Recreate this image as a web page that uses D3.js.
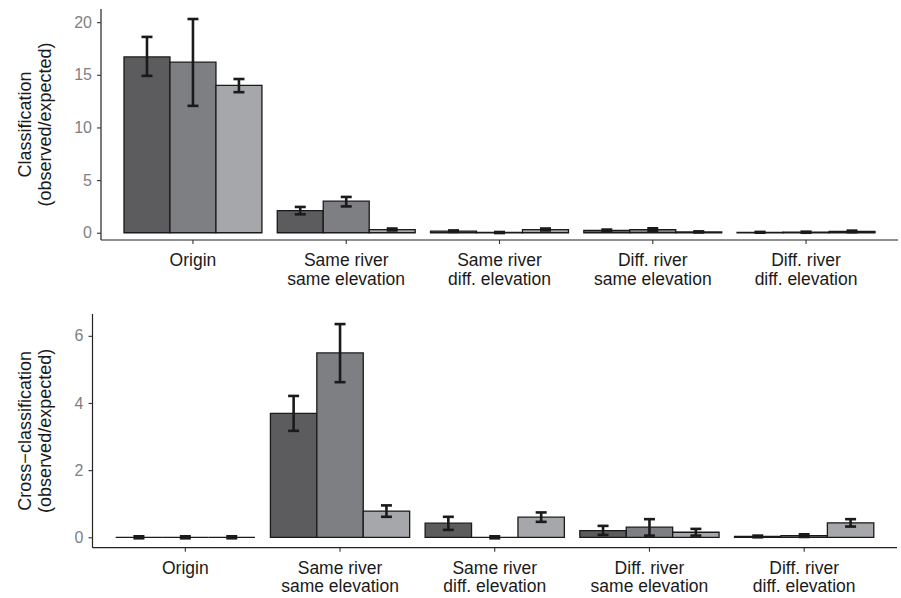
<!DOCTYPE html>
<html>
<head>
<meta charset="utf-8">
<script src="https://cdn.jsdelivr.net/npm/d3@7"></script>
<style>
  body { margin: 0; background: #fff; }
  text { font-family: "Liberation Sans", Arial, sans-serif; }
</style>
</head>
<body>
<script>
//categories along the x axis (two lines each)
var categories = ["Origin", "Same river same elevation", "Same river diff. elevation",
                  "Diff. river same elevation", "Diff. river diff. elevation"];
var categoryLines = [["Origin"], ["Same river", "same elevation"], ["Same river", "diff. elevation"],
                     ["Diff. river", "same elevation"], ["Diff. river", "diff. elevation"]];
var series = ["s1", "s2", "s3"];
var seriesColors = ["#5c5c5e", "#7e7f83", "#a6a7ab"];

//top panel: classification (observed/expected), one row per category
var classMean = [[16.7, 16.2, 14.0], [2.1, 3.0, 0.3], [0.15, 0.02, 0.3], [0.22, 0.3, 0.08], [0.04, 0.05, 0.12]];
var classLow  = [[14.9, 12.05, 13.35], [1.75, 2.5, 0.22], [0.08, -0.03, 0.22], [0.13, 0.18, 0.03], [0.0, 0.0, 0.05]];
var classHigh = [[18.6, 20.3, 14.6], [2.45, 3.4, 0.4], [0.22, 0.07, 0.4], [0.3, 0.42, 0.13], [0.08, 0.1, 0.2]];
var classTicks = [0, 5, 10, 15, 20];

//bottom panel: cross-classification (observed/expected)
var crossMean = [[0, 0, 0], [3.69, 5.49, 0.78], [0.42, 0, 0.6], [0.2, 0.3, 0.15], [0.03, 0.05, 0.43]];
var crossLow  = [[-0.03, -0.03, -0.03], [3.17, 4.62, 0.61], [0.22, -0.03, 0.46], [0.07, 0.05, 0.05], [0.0, 0.01, 0.32]];
var crossHigh = [[0.03, 0.03, 0.03], [4.21, 6.35, 0.95], [0.61, 0.03, 0.74], [0.34, 0.54, 0.25], [0.05, 0.09, 0.54]];
var crossTicks = [0, 2, 4, 6];

var width = 901, height = 598;

var svg = d3.select("body")
    .append("svg")
    .attr("width", width)
    .attr("height", height);

drawPanel({
    left: 101, right: 898, top: 9, bottom: 240,
    domain: [-0.69, 21.25], ticks: classTicks,
    mean: classMean, low: classLow, high: classHigh,
    title: ["Classification", "(observed/expected)"]
});

drawPanel({
    left: 92.5, right: 897, top: 314, bottom: 547.7,
    domain: [-0.31, 6.65], ticks: crossTicks,
    mean: crossMean, low: crossLow, high: crossHigh,
    title: ["Cross\u2212classification", "(observed/expected)"]
});

function drawPanel(p){
    var g = svg.append("g");

    //x: one band per category, bars dodged inside
    var x = d3.scaleBand()
        .domain(categories)
        .range([p.left, p.right])
        .paddingInner(0.1)
        .paddingOuter(0.15);
    var xs = d3.scaleBand()
        .domain(series)
        .range([0, x.bandwidth()]);
    var y = d3.scaleLinear()
        .domain(p.domain)
        .range([p.bottom, p.top]);

    //flatten to one record per bar
    var rows = [];
    categories.forEach(function(c, i){
        series.forEach(function(s, j){
            rows.push({cat: c, ser: s, j: j, mean: p.mean[i][j], low: p.low[i][j], high: p.high[i][j]});
        });
    });

    function bx(d){ return x(d.cat) + xs(d.ser); }
    function cx(d){ return bx(d) + xs.bandwidth() / 2; }

    //bars as paths so zero-height bars still show their outline
    g.selectAll(".bar")
        .data(rows)
        .enter()
        .append("path")
        .attr("class", "bar")
        .attr("d", function(d){
            var x0 = bx(d), x1 = x0 + xs.bandwidth(), y0 = y(0), y1 = y(d.mean);
            return "M" + x0 + "," + y0 + "H" + x1 + "V" + y1 + "H" + x0 + "Z";
        })
        .attr("fill", function(d){ return seriesColors[d.j]; })
        .attr("stroke", "#1a1a1a")
        .attr("stroke-width", 1.3);

    //error bars
    var capW = 11;
    var eb = g.selectAll(".err")
        .data(rows)
        .enter()
        .append("g")
        .attr("class", "err")
        .attr("stroke", "#1a1a1a")
        .attr("stroke-width", 2.6)
        .attr("fill", "none");
    eb.append("line")
        .attr("x1", cx)
        .attr("x2", cx)
        .attr("y1", function(d){ return y(d.low); })
        .attr("y2", function(d){ return y(d.high); });
    ["low", "high"].forEach(function(k){
        eb.append("line")
            .attr("x1", function(d){ return cx(d) - capW / 2; })
            .attr("x2", function(d){ return cx(d) + capW / 2; })
            .attr("y1", function(d){ return y(d[k]); })
            .attr("y2", function(d){ return y(d[k]); });
    });

    //y axis
    var yAxis = g.append("g")
        .attr("transform", "translate(" + p.left + ",0)")
        .call(d3.axisLeft(y).tickValues(p.ticks).tickFormat(d3.format("d"))
            .tickSize(4).tickPadding(5).tickSizeOuter(0));
    yAxis.select(".domain").attr("stroke", "#222").attr("stroke-width", 1.2)
        .attr("d", "M0," + p.top + "V" + p.bottom);
    yAxis.selectAll(".tick line").attr("stroke", "#333").attr("stroke-width", 1.1);
    yAxis.selectAll(".tick text")
        .attr("fill", "#7f7f7f")
        .style("font-size", "16px");

    //x axis
    var xAxis = g.append("g")
        .attr("transform", "translate(0," + p.bottom + ")")
        .call(d3.axisBottom(x).tickSize(4).tickSizeOuter(0).tickFormat(""));
    xAxis.select(".domain").attr("stroke", "#222").attr("stroke-width", 1.2)
        .attr("d", "M" + p.left + ",0H" + p.right);
    xAxis.selectAll(".tick line").attr("stroke", "#333").attr("stroke-width", 1.1);

    //category labels, two lines
    categories.forEach(function(c, i){
        var t = g.append("text")
            .attr("text-anchor", "middle")
            .attr("fill", "#1a1a1a")
            .style("font-size", "17.5px");
        categoryLines[i].forEach(function(line, k){
            t.append("tspan")
                .attr("x", x(c) + x.bandwidth() / 2)
                .attr("y", p.bottom + 26 + k * 18.5)
                .text(line);
        });
    });

    //y title
    var cy = (p.top + p.bottom) / 2;
    p.title.forEach(function(line, k){
        g.append("text")
            .attr("transform", "translate(" + (31 + k * 20) + "," + cy + ") rotate(-90)")
            .attr("text-anchor", "middle")
            .attr("fill", "#1a1a1a")
            .style("font-size", "18px")
            .text(line);
    });
}
</script>
</body>
</html>
